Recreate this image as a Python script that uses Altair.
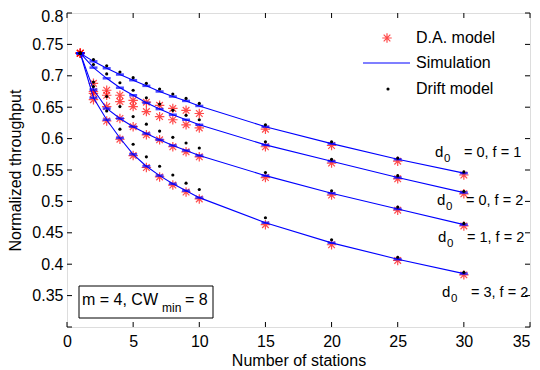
import altair as alt
import pandas as pd

# ---------------- data ----------------
stations = [1, 2, 3, 4, 5, 6, 7, 8, 9, 10, 15, 20, 25, 30]
curves = ["d0=0,f=1", "d0=0,f=2", "d0=1,f=2", "d0=3,f=2"]

sim_a = [0.736, 0.723, 0.712, 0.702, 0.693, 0.684, 0.675, 0.667, 0.660, 0.652, 0.619, 0.592, 0.567, 0.545]
sim_b = [0.736, 0.713, 0.696, 0.681, 0.669, 0.657, 0.647, 0.638, 0.630, 0.622, 0.590, 0.564, 0.538, 0.514]
sim_c = [0.736, 0.678, 0.648, 0.632, 0.619, 0.608, 0.598, 0.589, 0.581, 0.573, 0.541, 0.513, 0.488, 0.463]
sim_d = [0.736, 0.665, 0.630, 0.601, 0.575, 0.556, 0.541, 0.528, 0.517, 0.506, 0.466, 0.434, 0.408, 0.385]

drift_a = [0.736, 0.726, 0.716, 0.706, 0.697, 0.688, 0.679, 0.671, 0.664, 0.656, 0.622, 0.595, 0.569, 0.547]
drift_b = [0.736, 0.718, 0.703, 0.689, 0.677, 0.665, 0.655, 0.645, 0.637, 0.630, 0.595, 0.567, 0.541, 0.516]
drift_c = [0.736, 0.690, 0.667, 0.651, 0.635, 0.623, 0.612, 0.602, 0.593, 0.585, 0.546, 0.517, 0.491, 0.465]
drift_d = [0.736, 0.683, 0.644, 0.615, 0.591, 0.571, 0.556, 0.542, 0.529, 0.519, 0.474, 0.439, 0.411, 0.387]

da_a = [0.736, 0.688, 0.677, 0.669, 0.661, 0.658, 0.653, 0.648, 0.645, 0.640, 0.615, 0.589, 0.564, 0.542]
da_b = [0.736, 0.675, 0.669, 0.659, 0.651, 0.643, 0.635, 0.630, 0.622, 0.617, 0.587, 0.561, 0.536, 0.512]
da_c = [0.736, 0.672, 0.651, 0.632, 0.619, 0.606, 0.598, 0.587, 0.579, 0.571, 0.538, 0.510, 0.486, 0.461]
da_d = [0.736, 0.662, 0.628, 0.599, 0.573, 0.554, 0.539, 0.526, 0.515, 0.504, 0.463, 0.431, 0.406, 0.383]

x_ticks = [0, 5, 10, 15, 20, 25, 30, 35]
y_ticks = [0.3, 0.35, 0.4, 0.45, 0.5, 0.55, 0.6, 0.65, 0.7, 0.75, 0.8]
y_labels = [0.35, 0.4, 0.45, 0.5, 0.55, 0.6, 0.65, 0.7, 0.75, 0.8]

# ---------------- tables ----------------
rows = []
for c, s, dr, da in zip(curves, [sim_a, sim_b, sim_c, sim_d], [drift_a, drift_b, drift_c, drift_d],
                        [da_a, da_b, da_c, da_d]):
    for i, n in enumerate(stations):
        rows.append({"curve": c, "n": n, "sim": s[i], "drift": dr[i], "da": da[i]})
df = pd.DataFrame(rows)

W, H = 463, 314
FONT = "Liberation Sans"
ASTER = "M-1,0L1,0M0,-1L0,1M-0.7,-0.7L0.7,0.7M-0.7,0.7L0.7,-0.7"

xs = alt.Scale(domain=[0, 35], nice=False, zero=False)
ys = alt.Scale(domain=[0.3, 0.8], nice=False, zero=False)

x_axis = alt.Axis(values=x_ticks, format="d", ticks=False, tickSize=0, grid=False, domain=False,
                  labelOverlap=False, labelFlush=False, labelBound=False,
                  labelAlign=alt.ExprRef(expr="datum.value == 35 ? 'right' : 'center'"),
                  labelFont=FONT, labelFontSize=16, labelColor="black", labelPadding=6,
                  title="Number of stations", titleFont=FONT, titleFontSize=16,
                  titleFontWeight="normal", titleColor="black", titlePadding=3)
y_axis = alt.Axis(values=y_labels, format="~g", ticks=False, tickSize=0, grid=False, domain=False,
                  labelOverlap=False, labelFlush=False, labelBound=False,
                  labelOffset=alt.ExprRef(expr="datum.value >= 0.8 ? 3 : 0"),
                  labelFont=FONT, labelFontSize=16, labelColor="black", labelPadding=4,
                  title="Normalized throughput", titleFont=FONT, titleFontSize=16,
                  titleFontWeight="normal", titleColor="black", titlePadding=8)


def X(field):
    return alt.X(field, scale=xs, axis=x_axis)


def Y(field):
    return alt.Y(field, scale=ys, axis=y_axis)


base = alt.Chart(df)

da_layer = base.mark_point(shape=ASTER, filled=False, color="#ff0000", size=90, strokeWidth=1.2).encode(
    x=X("n:Q"), y=Y("da:Q"), detail="curve:N",
)
sim_line = base.mark_line(color="#0000ff", strokeWidth=1.1).encode(
    x=X("n:Q"), y=Y("sim:Q"), detail="curve:N", order="n:Q"
)
sim_tick = base.mark_tick(orient="horizontal", color="#0000ff", size=8, thickness=2.5).encode(
    x=X("n:Q"), y=Y("sim:Q")
)
drift_layer = base.mark_circle(color="black", size=10, opacity=1).encode(
    x=X("n:Q"), y=Y("drift:Q")
)

# inward ticks on all four sides
xt_df = pd.DataFrame({"n": x_ticks})
yt_df = pd.DataFrame({"v": y_ticks})
tick_style = dict(color="black", strokeWidth=1)
xt_bot = alt.Chart(xt_df).mark_rule(**tick_style).encode(
    x=X("n:Q"), y=alt.value(H), y2=alt.value(H - 5))
xt_top = alt.Chart(xt_df).mark_rule(**tick_style).encode(
    x=X("n:Q"), y=alt.value(0), y2=alt.value(5))
yt_left = alt.Chart(yt_df).mark_rule(**tick_style).encode(
    y=Y("v:Q"), x=alt.value(0), x2=alt.value(5))
yt_right = alt.Chart(yt_df).mark_rule(**tick_style).encode(
    y=Y("v:Q"), x=alt.value(W), x2=alt.value(W - 5))

one = alt.Data(values=[{"k": 1}])

# legend
leg_ast = alt.Chart(one).mark_point(shape=ASTER, filled=False, color="#ff0000", size=90, strokeWidth=1.2).encode(
    x=alt.value(320), y=alt.value(25))
leg_line = alt.Chart(one).mark_rule(color="#0000ff", strokeWidth=1.1).encode(
    x=alt.value(296), x2=alt.value(343), y=alt.value(50))
leg_dot = alt.Chart(one).mark_circle(color="black", size=10, opacity=1).encode(
    x=alt.value(321), y=alt.value(76))
leg_items = ["D.A. model", "Simulation", "Drift model"]
leg_t1 = alt.Chart(one).mark_text(align="left", baseline="alphabetic", font=FONT, fontSize=16,
                                  color="black").encode(x=alt.value(349), y=alt.value(30), text=alt.value(leg_items[0]))
leg_t2 = alt.Chart(one).mark_text(align="left", baseline="alphabetic", font=FONT, fontSize=16,
                                  color="black").encode(x=alt.value(349), y=alt.value(55), text=alt.value(leg_items[1]))
leg_t3 = alt.Chart(one).mark_text(align="left", baseline="alphabetic", font=FONT, fontSize=16,
                                  color="black").encode(x=alt.value(349), y=alt.value(81), text=alt.value(leg_items[2]))

# curve annotations (d, subscript 0, rest), pixel positions in the plot area
ann_rest = ["= 0, f = 1", "= 0, f = 2", "= 1, f = 2", "= 3, f = 2"]
ann_pos = [(368, 144), (370, 192), (371, 229), (375, 284)]
ann_layers = []
for txt, (px, py) in zip(ann_rest, ann_pos):
    ann_layers.append(alt.Chart(one).mark_text(align="left", baseline="alphabetic", font=FONT, fontSize=15,
                                               color="black").encode(x=alt.value(px), y=alt.value(py), text=alt.value("d")))
    ann_layers.append(alt.Chart(one).mark_text(align="left", baseline="alphabetic", font=FONT, fontSize=11.5,
                                               color="black").encode(x=alt.value(px + 9), y=alt.value(py + 5), text=alt.value("0")))
    ann_layers.append(alt.Chart(one).mark_text(align="left", baseline="alphabetic", font=FONT, fontSize=14.5,
                                               color="black").encode(x=alt.value(px + 29), y=alt.value(py), text=alt.value(txt)))

# parameter box
box = alt.Chart(one).mark_rect(fill="white", stroke="black", strokeWidth=1).encode(
    x=alt.value(12), x2=alt.value(146), y=alt.value(273), y2=alt.value(305))
box_t1 = alt.Chart(one).mark_text(align="left", baseline="alphabetic", font=FONT, fontSize=16,
                                  color="black").encode(x=alt.value(15), y=alt.value(292), text=alt.value("m = 4, CW"))
box_t2 = alt.Chart(one).mark_text(align="left", baseline="alphabetic", font=FONT, fontSize=12,
                                  color="black").encode(x=alt.value(95), y=alt.value(299), text=alt.value("min"))
box_t3 = alt.Chart(one).mark_text(align="left", baseline="alphabetic", font=FONT, fontSize=16,
                                  color="black").encode(x=alt.value(118), y=alt.value(292), text=alt.value("= 8"))

chart = alt.layer(
    da_layer, sim_line, sim_tick, drift_layer,
    xt_bot, xt_top, yt_left, yt_right,
    leg_ast, leg_line, leg_dot, leg_t1, leg_t2, leg_t3,
    *ann_layers,
    box, box_t1, box_t2, box_t3,
).properties(
    width=W, height=H,
    autosize=alt.AutoSizeParams(type="none"),
    padding={"left": 59, "top": 5, "right": 2, "bottom": 40},
).configure_view(stroke="black", strokeWidth=1).configure(background="white")

chart.save("out.html", embed_options={"renderer": "svg", "actions": False})
